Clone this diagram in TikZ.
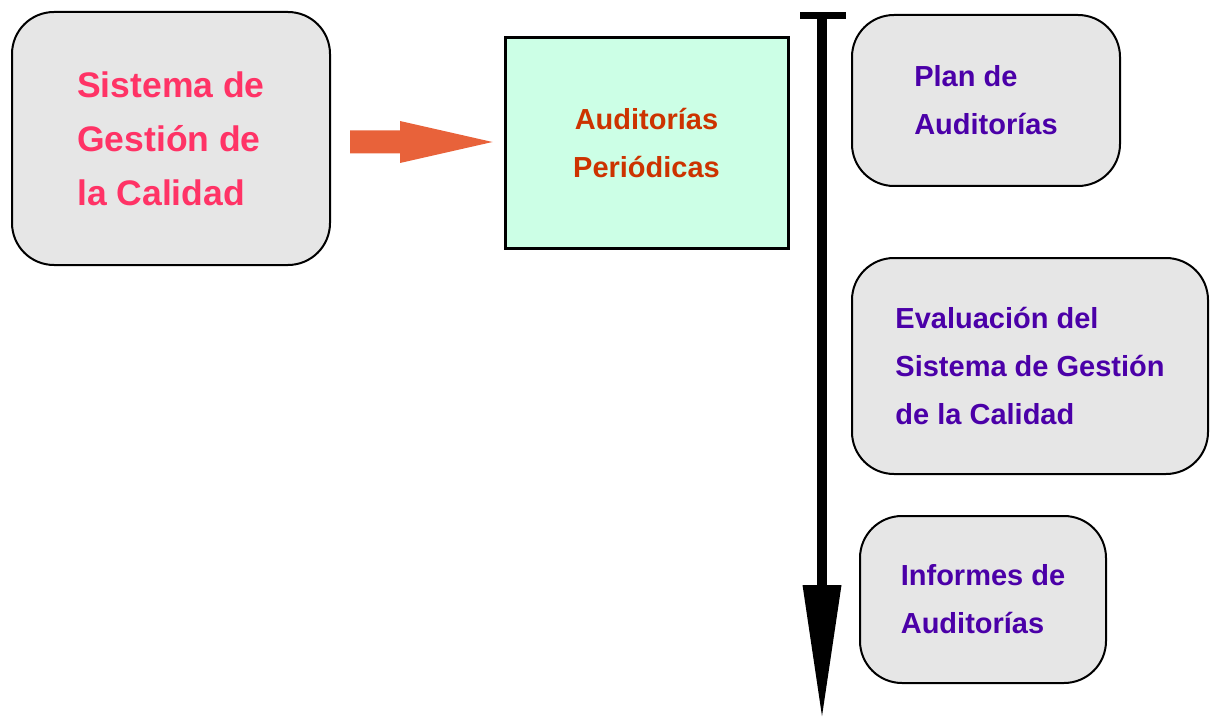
\documentclass[tikz,border=0pt]{standalone}
\usepackage{fontspec}
\setmainfont{Liberation Sans}
\usetikzlibrary{arrows.meta}
\definecolor{boxgray}{HTML}{E6E6E6}
\definecolor{mint}{HTML}{CCFFE6}
\definecolor{pinkred}{HTML}{FF3366}
\definecolor{orangearrow}{HTML}{E8623A}
\definecolor{redtext}{HTML}{CC3300}
\definecolor{purpletext}{HTML}{4B00A8}
\tikzset{
  roundbox/.style={draw=black, line width=2pt, fill=boxgray, rounded corners=42pt,
    inner sep=0pt, align=left, font=\bfseries\fontsize{29}{48}\selectfont, text=purpletext},
  squarebox/.style={draw=black, line width=3pt, fill=mint, inner sep=0pt, align=center,
    font=\bfseries\fontsize{29}{48}\selectfont, text=redtext},
}
\begin{document}
\begin{tikzpicture}[x=1pt,y=-1pt]
\useasboundingbox (0,0) rectangle (1210,722);
\node[roundbox, minimum width=318pt, minimum height=253pt, text=pinkred,
      font=\bfseries\fontsize{35.5}{54}\selectfont] (sgc) at (171,138.5)
      {Sistema de\\Gestión de\\la Calidad};
\node[squarebox, minimum width=283pt, minimum height=210pt] (aud) at (646.5,143)
      {Auditorías\\Periódicas};
\node[roundbox, minimum width=268pt, minimum height=171pt] (plan) at (986,100.5)
      {Plan de\\Auditorías};
\node[roundbox, minimum width=356pt, minimum height=216pt] (eval) at (1030,366)
      {Evaluación del\\Sistema de Gestión\\de la Calidad};
\node[roundbox, minimum width=246pt, minimum height=167pt] (inf) at (983,599.5)
      {Informes de\\Auditorías};
% orange arrow from sgc to aud
\path ([xshift=19pt]sgc.east |- 0,142) coordinate (a0);
\path ([xshift=-11pt]aud.west |- 0,142) coordinate (a1);
\fill[orangearrow] ([yshift=11.5pt]a0) -- ([xshift=50pt,yshift=11.5pt]a0)
  -- ([xshift=50pt,yshift=21pt]a0) -- (a1)
  -- ([xshift=50pt,yshift=-21pt]a0) -- ([xshift=50pt,yshift=-11.5pt]a0)
  -- ([yshift=-11.5pt]a0) -- cycle;
% timeline
\coordinate (ttop) at (822,15);
\coordinate (tbot) at (822,720);
\coordinate (barl) at (800,15.5);
\coordinate (barr) at (846,15.5);
\draw[line width=7pt] (barl) -- (barr);
\draw[line width=10pt, -{Triangle[length=135pt,width=36pt]}] (ttop) -- (tbot);
\end{tikzpicture}
\end{document}
